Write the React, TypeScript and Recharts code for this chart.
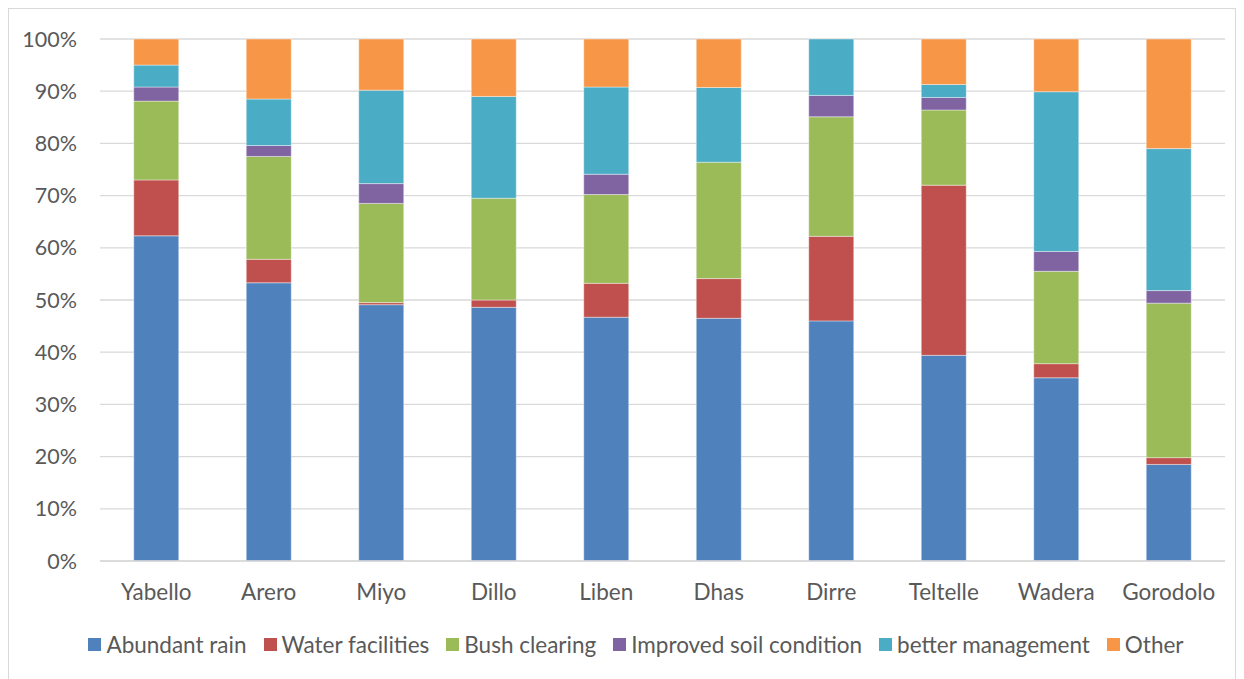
import React from 'react';
import { BarChart, Bar, XAxis, YAxis, CartesianGrid, Legend } from 'recharts';

const categories = ['Yabello', 'Arero', 'Miyo', 'Dillo', 'Liben', 'Dhas', 'Dirre', 'Teltelle', 'Wadera', 'Gorodolo'];
const abundantRain = [62.3, 53.3, 49.1, 48.6, 46.7, 46.5, 46.0, 39.4, 35.1, 18.5];
const waterFacilities = [10.7, 4.5, 0.4, 1.4, 6.5, 7.6, 16.2, 32.6, 2.7, 1.3];
const bushClearing = [15.1, 19.7, 19.0, 19.5, 17.0, 22.3, 22.9, 14.4, 17.7, 29.6];
const improvedSoil = [2.7, 2.1, 3.8, 0, 3.9, 0, 4.1, 2.4, 3.8, 2.4];
const betterManagement = [4.2, 8.9, 17.9, 19.5, 16.7, 14.3, 10.8, 2.5, 30.6, 27.2];
const other = [5.0, 11.5, 9.8, 11.0, 9.2, 9.3, 0, 8.7, 10.1, 21.0];
const yTicks = [0, 0.1, 0.2, 0.3, 0.4, 0.5, 0.6, 0.7, 0.8, 0.9, 1];

const seriesNames = ['Abundant rain', 'Water facilities', 'Bush clearing', 'Improved soil condition', 'better management', 'Other'];
const seriesKeys = ['rain', 'water', 'bush', 'soil', 'mgmt', 'other'];
const seriesColors = ['#4F81BD', '#C0504D', '#9BBB59', '#8064A2', '#4BACC6', '#F79646'];
const seriesValues = [abundantRain, waterFacilities, bushClearing, improvedSoil, betterManagement, other];

const data = categories.map((name, i) => {
  const row: Record<string, number | string> = { name };
  seriesKeys.forEach((k, s) => {
    row[k] = seriesValues[s][i];
  });
  return row;
});

const FONT = 'Lato, "Noto Sans", sans-serif';
const TEXT = '#595959';

const LegendContent = () => (
  <div style={{ display: 'flex', justifyContent: 'center', alignItems: 'center', fontFamily: FONT, fontSize: 22.5, color: TEXT, height: 30, paddingLeft: 38 }}>
    {seriesNames.map((n, i) => (
      <div key={n} style={{ display: 'flex', alignItems: 'center', marginRight: i < seriesNames.length - 1 ? 17 : 0 }}>
        <span style={{ display: 'inline-block', width: 13, height: 13, background: seriesColors[i], marginRight: 5 }} />
        <span>{n}</span>
      </div>
    ))}
  </div>
);

export default function App() {
  return (
    <div style={{ width: 1228, height: 680, border: '1px solid #d9d9d9', boxSizing: 'border-box', background: '#fff' }}>
      <BarChart
        width={1226}
        height={678}
        data={data}
        stackOffset="expand"
        barCategoryGap="30%"
        margin={{ top: 30, right: 10, bottom: 28, left: 0 }}
      >
        <CartesianGrid vertical={false} stroke="#d9d9d9" strokeWidth={1.3} />
        <XAxis
          dataKey="name"
          tickLine={false}
          axisLine={{ stroke: '#d9d9d9', strokeWidth: 1.3 }}
          tickSize={0}
          tickMargin={23}
          height={68}
          tick={{ fill: TEXT, fontSize: 22.5, fontFamily: FONT }}
          interval={0}
        />
        <YAxis
          ticks={yTicks}
          domain={[0, 1]}
          tickFormatter={(v: number) => `${Math.round(v * 100)}%`}
          axisLine={false}
          tickLine={false}
          tickSize={0}
          tickMargin={23}
          width={91}
          tick={{ fill: TEXT, fontSize: 21.5, fontFamily: FONT }}
        />
        <Legend verticalAlign="bottom" height={30} content={<LegendContent />} />
        {seriesKeys.map((k, i) => (
          <Bar
            key={k}
            dataKey={k}
            name={seriesNames[i]}
            stackId="a"
            fill={seriesColors[i]}
            stroke="#ffffff"
            strokeOpacity={0.5}
            strokeWidth={0.8}
            isAnimationActive={false}
          />
        ))}
      </BarChart>
    </div>
  );
}
